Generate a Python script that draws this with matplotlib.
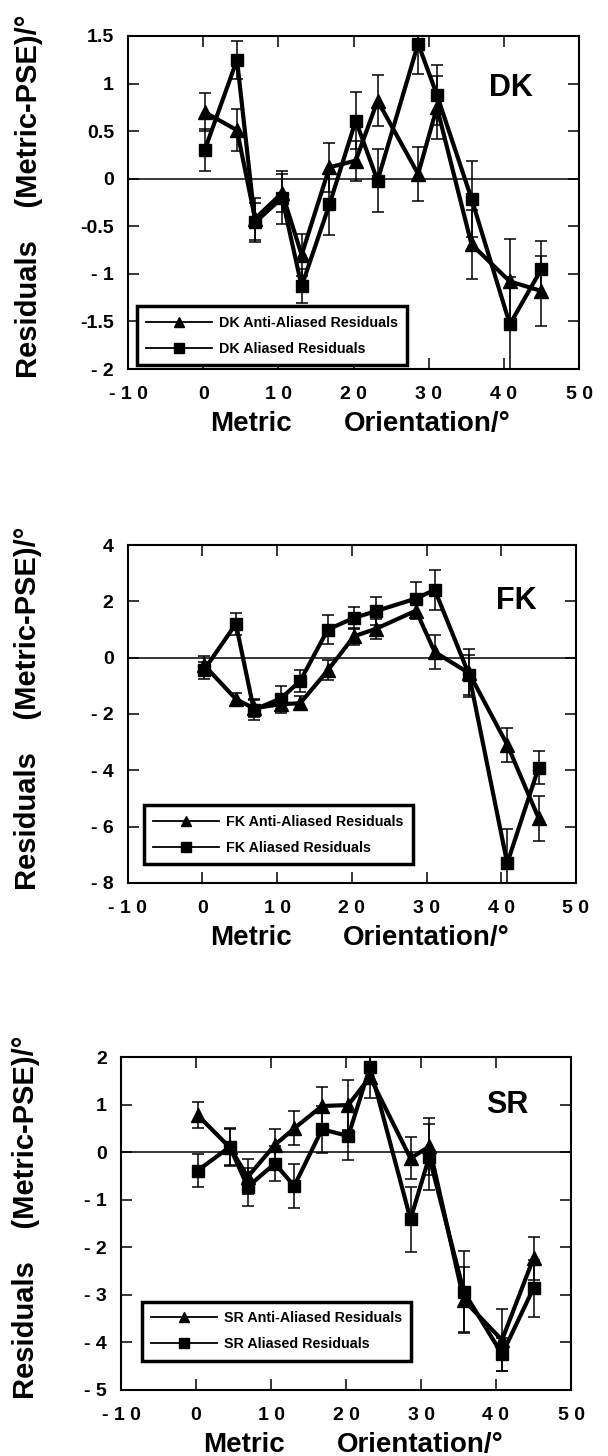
import matplotlib
matplotlib.use("Agg")
import matplotlib.pyplot as plt
from matplotlib.lines import Line2D

plt.rcParams['font.family'] = ['Liberation Sans', 'DejaVu Sans']
plt.rcParams['font.weight'] = 'bold'

W, H = 608, 1456

# Metric orientation (deg) of each tested condition
orientation = [0.2, 4.5, 6.9, 10.5, 13.1, 16.8, 20.3, 23.2, 28.6, 31.1, 35.7, 40.8, 45.0]

# DK residuals
dk_anti = [0.70, 0.51, -0.42, -0.15, -0.80, 0.12, 0.19, 0.82, 0.05, 0.75, -0.69, -1.08, -1.18]
dk_anti_err = [0.20, 0.22, 0.22, 0.20, 0.22, 0.26, 0.21, 0.27, 0.28, 0.33, 0.36, 0.45, 0.37]
dk_alias = [0.30, 1.25, -0.46, -0.20, -1.13, -0.27, 0.61, -0.02, 1.42, 0.88, -0.21, -1.53, -0.95]
dk_alias_err = [0.22, 0.20, 0.20, 0.28, 0.18, 0.32, 0.30, 0.33, 0.32, 0.32, 0.40, 0.50, 0.30]

# FK residuals
fk_anti = [-0.25, -1.47, -1.80, -1.65, -1.62, -0.45, 0.76, 1.02, 1.67, 0.20, -0.55, -3.09, -5.70]
fk_anti_err = [0.30, 0.20, 0.30, 0.30, 0.25, 0.35, 0.30, 0.35, 0.30, 0.60, 0.85, 0.60, 0.80]
fk_alias = [-0.45, 1.20, -1.85, -1.45, -0.83, 1.00, 1.41, 1.65, 2.10, 2.41, -0.61, -7.30, -3.90]
fk_alias_err = [0.30, 0.40, 0.37, 0.45, 0.40, 0.50, 0.40, 0.50, 0.60, 0.70, 0.70, 1.20, 0.60]

# SR residuals
sr_anti = [0.78, 0.10, -0.52, 0.15, 0.50, 0.97, 0.99, 1.58, -0.13, 0.12, -3.11, -3.95, -2.23]
sr_anti_err = [0.28, 0.40, 0.37, 0.33, 0.36, 0.39, 0.52, 0.45, 0.44, 0.60, 0.70, 0.65, 0.45]
sr_alias = [-0.39, 0.11, -0.73, -0.24, -0.71, 0.48, 0.34, 1.79, -1.41, -0.10, -2.93, -4.25, -2.86]
sr_alias_err = [0.35, 0.38, 0.40, 0.37, 0.47, 0.49, 0.51, 0.30, 0.68, 0.70, 0.85, 0.35, 0.60]

x_ticks = [-10, 0, 10, 20, 30, 40, 50]
x_tick_labels = ["- 1 0", "0", "1 0", "2 0", "3 0", "4 0", "5 0"]

dk_yticks = [-2, -1.5, -1, -0.5, 0, 0.5, 1, 1.5]
dk_ytick_labels = ["- 2", "-1.5", "- 1", "-0.5", "0", "0.5", "1", "1.5"]
fk_yticks = [-8, -6, -4, -2, 0, 2, 4]
fk_ytick_labels = ["- 8", "- 6", "- 4", "- 2", "0", "2", "4"]
sr_yticks = [-5, -4, -3, -2, -1, 0, 1, 2]
sr_ytick_labels = ["- 5", "- 4", "- 3", "- 2", "- 1", "0", "1", "2"]

panels = [
    dict(tag="DK", anti=dk_anti, anti_err=dk_anti_err, alias=dk_alias, alias_err=dk_alias_err,
         yticks=dk_yticks, ylabels=dk_ytick_labels, box=(128, 36, 579, 369),
         leg=(0.019, 0.012), tagpos=(40.9, 0.95), ylab_x=29),
    dict(tag="FK", anti=fk_anti, anti_err=fk_anti_err, alias=fk_alias, alias_err=fk_alias_err,
         yticks=fk_yticks, ylabels=fk_ytick_labels, box=(127.5, 545, 576, 883),
         leg=(0.037, 0.056), tagpos=(42.0, 2.0), ylab_x=28),
    dict(tag="SR", anti=sr_anti, anti_err=sr_anti_err, alias=sr_alias, alias_err=sr_alias_err,
         yticks=sr_yticks, ylabels=sr_ytick_labels, box=(121, 1057, 571, 1390),
         leg=(0.046, 0.088), tagpos=(41.5, 0.99), ylab_x=26),
]


def fx(px):
    return px / W


def fy(py):
    return 1 - py / H


fig = plt.figure(figsize=(W / 100, H / 100), dpi=100)
fig.patch.set_facecolor("white")

for p in panels:
    x0, y0, x1, y1 = p["box"]
    ax = fig.add_axes([fx(x0), fy(y1), (x1 - x0) / W, (y1 - y0) / H])
    ax.axhline(0, color="k", lw=1.1, zorder=1)

    ax.errorbar(orientation, p["anti"], yerr=p["anti_err"], fmt="none", ecolor="k",
                elinewidth=1.1, capsize=4, capthick=1.1, zorder=2)
    ax.errorbar(orientation, p["alias"], yerr=p["alias_err"], fmt="none", ecolor="k",
                elinewidth=1.1, capsize=4, capthick=1.1, zorder=2)
    ax.plot(orientation, p["anti"], color="k", lw=3, marker="^", ms=10, zorder=3)
    ax.plot(orientation, p["alias"], color="k", lw=3, marker="s", ms=9, zorder=3)

    ax.set_xlim(-10, 50)
    ax.set_ylim(p["yticks"][0], p["yticks"][-1])
    ax.set_xticks(x_ticks)
    ax.set_xticklabels(x_tick_labels)
    ax.set_yticks(p["yticks"])
    ax.set_yticklabels(p["ylabels"])
    ax.tick_params(axis="both", direction="in", length=8, width=1.1, top=True, right=True,
                   labelsize=14)
    ax.tick_params(axis="x", pad=12)
    ax.tick_params(axis="y", pad=10)
    for s in ax.spines.values():
        s.set_linewidth(1.5)

    ax.text(p["tagpos"][0], p["tagpos"][1], p["tag"], fontsize=22, fontweight="bold",
            ha="center", va="center")

    handles = [
        Line2D([], [], color="k", lw=1.3, marker="^", ms=7,
               label=f"{p['tag']} Anti-Aliased Residuals"),
        Line2D([], [], color="k", lw=1.3, marker="s", ms=7,
               label=f"{p['tag']} Aliased Residuals"),
    ]
    leg = ax.legend(handles=handles, loc="lower left", bbox_to_anchor=p["leg"],
                    borderaxespad=0, fancybox=False, framealpha=1, edgecolor="k",
                    prop={"weight": "bold", "size": 10.3}, handlelength=4.6,
                    handletextpad=0.5, borderpad=0.65, labelspacing=0.85)
    leg.get_frame().set_linewidth(2.5)

    # axis titles
    fig.text(fx(x0 + 123), fy(y1 + 55), "Metric", fontsize=20, fontweight="bold",
             ha="center", va="center")
    fig.text(fx(x0 + 299), fy(y1 + 55), "Orientation/°", fontsize=20, fontweight="bold",
             ha="center", va="center")
    fig.text(fx(p["ylab_x"]), fy((y0 + y1) / 2 - 6), "Residuals    (Metric-PSE)/°",
             fontsize=21, fontweight="bold", rotation=90, ha="center", va="center")

fig.savefig("out.png", dpi=100, facecolor="white")
